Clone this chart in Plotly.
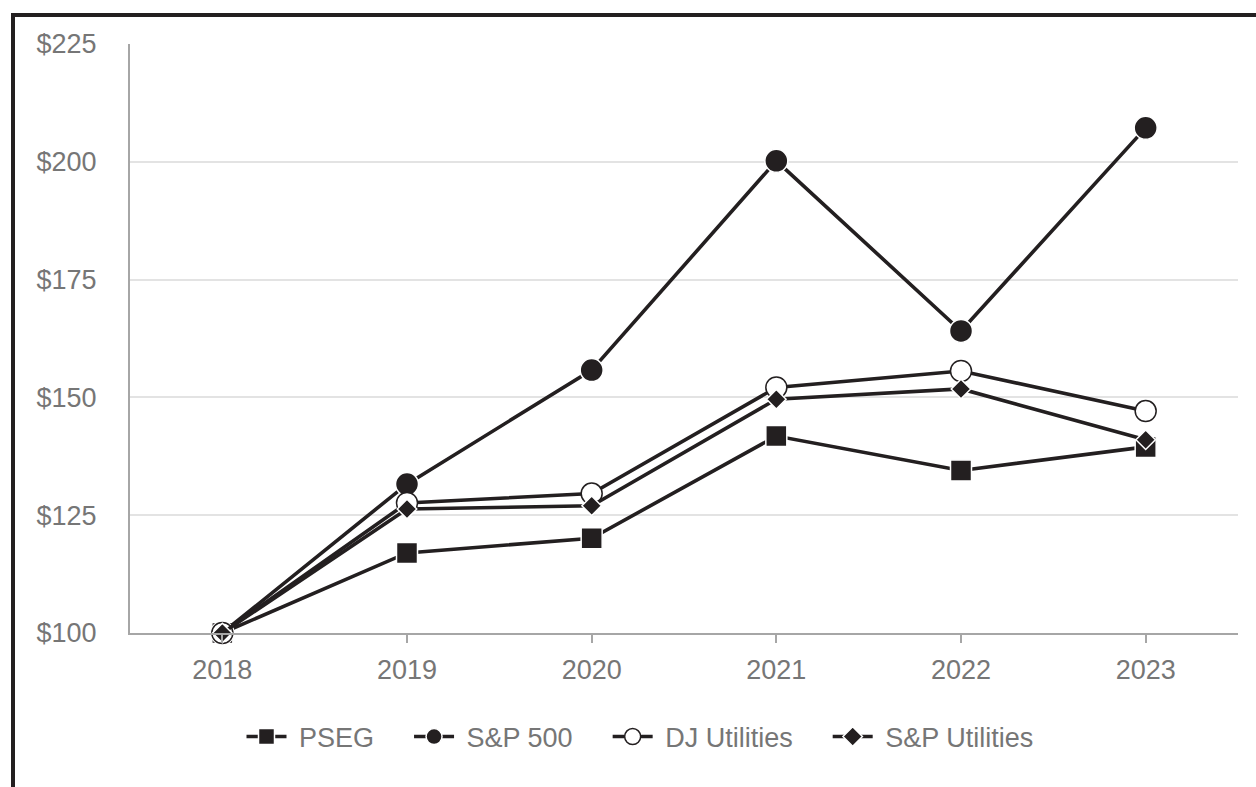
import plotly.graph_objects as go

years = ["2018", "2019", "2020", "2021", "2022", "2023"]
pseg = [100, 117.0, 120.1, 141.8, 134.5, 139.5]
sp500 = [100, 131.6, 155.8, 200.2, 164.1, 207.2]
dj_util = [100, 127.6, 129.6, 152.1, 155.6, 147.1]
sp_util = [100, 126.3, 127.0, 149.6, 151.8, 141.0]
y_ticks = [100, 125, 150, 175, 200, 225]
y_labels = ["$100", "$125", "$150", "$175", "$200", "$225"]
names = ["PSEG", "S&P 500", "DJ Utilities", "S&P Utilities"]

INK = "#231f20"
GREY = "#767676"
NB = "\u00a0"

series = [
    (names[0], pseg, "square", INK, "white", 21),
    (names[1], sp500, "circle", INK, "white", 23),
    (names[2], dj_util, "circle", "white", INK, 21),
    (names[3], sp_util, "diamond", INK, "white", 15),
]

fig = go.Figure()
for name, vals, sym, fill, edge, size in series:
    fig.add_trace(go.Scatter(
        x=years, y=vals, name=NB + name + NB * 4, mode="lines+markers",
        line=dict(color=INK, width=3.6),
        marker=dict(symbol=sym, size=size, color=fill,
                    line=dict(color=edge, width=1.5)),
        cliponaxis=False,
    ))

W, H = 1256, 787
L, R, T, B = 130, 18, 44, 154
pw, ph = W - L - R, H - T - B

def px_x(p):
    return (p - L) / pw

def px_y(p):
    return (H - B - p) / ph

fig.add_shape(type="path", xref="paper", yref="paper",
              path=f"M {px_x(13)} {px_y(790)} L {px_x(13)} {px_y(15)} L {px_x(1260)} {px_y(15)}",
              line=dict(color=INK, width=4))

fig.update_layout(
    width=W, height=H,
    margin=dict(l=L, r=R, t=T, b=B),
    paper_bgcolor="white", plot_bgcolor="white",
    font=dict(family="Liberation Sans, Arial, sans-serif", color=GREY, size=27),
    showlegend=True,
    legend=dict(orientation="h", x=px_x(655), xanchor="center",
                y=px_y(737), yanchor="middle",
                font=dict(size=27, color=GREY),
                itemwidth=40, traceorder="normal"),
    xaxis=dict(type="category", range=[-0.5, 5.5],
               showline=True, linecolor="#a6a6a6", linewidth=2,
               ticks="outside", ticklen=8, tickcolor="#a6a6a6", tickwidth=2,
               showgrid=False, ticklabelstandoff=4,
               tickfont=dict(size=27, color=GREY)),
    yaxis=dict(range=[100, 225], tickvals=y_ticks, ticktext=y_labels,
               showline=True, linecolor="#a6a6a6", linewidth=2,
               showgrid=True, gridcolor="#e3e3e3", gridwidth=2,
               zeroline=False, ticks="", ticklabelstandoff=26,
               tickfont=dict(size=27, color=GREY)),
)

fig.write_html("out.html", config={"displayModeBar": False},
               post_script="document.body.style.margin='0';document.body.style.overflow='hidden';")
